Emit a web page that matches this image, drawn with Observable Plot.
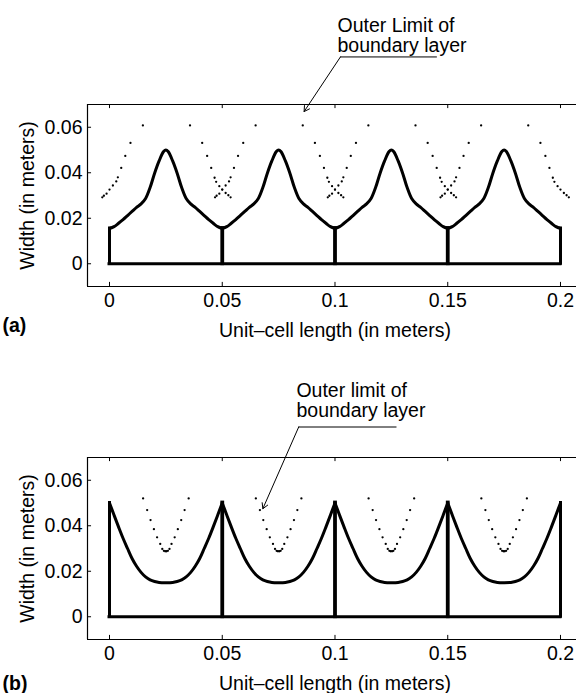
<!DOCTYPE html>
<html>
<head>
<meta charset="utf-8">
<script src="https://cdn.jsdelivr.net/npm/d3@7"></script>
<script src="https://cdn.jsdelivr.net/npm/@observablehq/plot@0.6"></script>
<style>
  html, body { margin: 0; padding: 0; background: #fff; overflow: hidden; }
  #chart svg { display: block; }
</style>
</head>
<body>
<div id="chart"></div>
<script>
// ---------- data ----------
const xTicks = [0, 0.05, 0.1, 0.15, 0.2];
const xTickLabels = ["0", "0.05", "0.1", "0.15", "0.2"];
const yTicks = [0, 0.02, 0.04, 0.06];
const yTickLabels = ["0", "0.02", "0.04", "0.06"];
const xLabel = "Unit\u2013cell length (in meters)";
const yLabel = "Width (in meters)";

// unit cells (left edges) and cell edges
const cellStarts = [0, 0.05, 0.1, 0.15];
const cellEdges = [0, 0.05, 0.1, 0.15, 0.2];

// (a) wall profile of one unit cell: offset within cell, width
const topCellX = [0, 0.002, 0.004, 0.006, 0.008, 0.010, 0.012, 0.014, 0.016, 0.018, 0.020, 0.022, 0.024, 0.025,
                  0.026, 0.028, 0.030, 0.032, 0.034, 0.036, 0.038, 0.040, 0.042, 0.044, 0.046, 0.048, 0.050];
const topCellW = [0.0155, 0.0163, 0.0178, 0.0194, 0.0212, 0.0230, 0.0248, 0.0263, 0.0287, 0.0335, 0.0398, 0.0452, 0.0493, 0.0500,
                  0.0493, 0.0452, 0.0398, 0.0335, 0.0287, 0.0263, 0.0248, 0.0230, 0.0212, 0.0194, 0.0178, 0.0163, 0.0155];

// (a) boundary-layer outer limit: rising branch (offset from a valley), falling branch
const riseValleys = [0, 0.05, 0.1, 0.15];
const riseOff = [-0.0032, -0.0025, -0.0013, 0.0000, 0.0015, 0.0030, 0.0037, 0.0052, 0.0070, 0.0093, 0.0148];
const riseW   = [0.0292, 0.0299, 0.0308, 0.0326, 0.0344, 0.0362, 0.0380, 0.0421, 0.0474, 0.0531, 0.0608];
const fallValleys = [0.05, 0.1, 0.15, 0.2];
const fallOff = [-0.0143, -0.0089, -0.0067, -0.0049, -0.0034, -0.0027, -0.0013, 0.0000, 0.0015, 0.0027, 0.0037];
const fallW   = [0.0608, 0.0531, 0.0474, 0.0421, 0.0378, 0.0360, 0.0341, 0.0326, 0.0311, 0.0301, 0.0292];

// (b) wall profile of one unit cell
const botCellX = [0, 0.002, 0.004, 0.006, 0.008, 0.010, 0.012, 0.014, 0.016, 0.018, 0.020, 0.022, 0.025,
                  0.028, 0.030, 0.032, 0.034, 0.036, 0.038, 0.040, 0.042, 0.044, 0.046, 0.048, 0.050];
const botCellW = [0.0500, 0.0447, 0.0395, 0.0345, 0.0300, 0.0256, 0.0222, 0.0195, 0.0175, 0.0162, 0.0155, 0.0151, 0.0150,
                  0.0151, 0.0155, 0.0162, 0.0175, 0.0195, 0.0222, 0.0256, 0.0300, 0.0345, 0.0395, 0.0447, 0.0500];

// (b) boundary-layer outer limit: V shape around each cell centre
const vCentres = [0.025, 0.075, 0.125, 0.175];
const vOff = [-0.0101, -0.0083, -0.0068, -0.0053, -0.0039, -0.0025, -0.0016, -0.0009, -0.0003,
               0.0003, 0.0009, 0.0016, 0.0025, 0.0039, 0.0053, 0.0068, 0.0083, 0.0101];
const vW   = [0.0520, 0.0469, 0.0425, 0.0385, 0.0349, 0.0320, 0.0298, 0.0290, 0.0288,
              0.0288, 0.0290, 0.0298, 0.0320, 0.0349, 0.0385, 0.0425, 0.0469, 0.0520];

// annotations (data units)
const annTop = {text: "Outer Limit of\nboundary layer", tx: 0.1011, ty: 0.0929,
                lineX: [0.145, 0.1024], lineY: [0.0909, 0.0909], tipX: 0.0863, tipY: 0.0669};
const annBot = {text: "Outer limit of\nboundary layer", tx: 0.0829, ty: 0.0876,
                lineX: [0.1271, 0.0839], lineY: [0.0834, 0.0834], tipX: 0.068, tipY: 0.0475};

// ---------- building ----------
const xDomain = [-0.00976, 0.2071];
const yDomain = [-0.01, 0.07];
const FONT = "'Liberation Sans', Arial, Helvetica, sans-serif";
const FS = 19.5;

function tile(starts, offs, ws) {
  const out = [];
  starts.forEach(s => offs.forEach((o, i) => out.push({cell: s, x: s + o, w: ws[i]})));
  return out;
}

function panel({height, marginTop, marginBottom, profile, edgeH, dots, ann, tag, tagDy}) {
  const tickLenX = 0.0018, tickLenY = 0.0018;
  return Plot.plot({
    width: 576,
    height,
    marginLeft: 87,
    marginRight: 0,
    marginTop,
    marginBottom,
    style: {fontFamily: FONT, fontSize: FS + "px", background: "#fff", color: "#000", overflow: "visible"},
    x: {domain: xDomain},
    y: {domain: yDomain},
    marks: [
      // frame (left, top, bottom)
      Plot.ruleY(yDomain, {stroke: "#000", strokeWidth: 1.2}),
      Plot.ruleX([xDomain[0]], {stroke: "#000", strokeWidth: 1.2}),
      // inward ticks
      Plot.ruleX(xTicks, {y1: yDomain[0], y2: yDomain[0] + tickLenY, stroke: "#000", strokeWidth: 1}),
      Plot.ruleX(xTicks, {y1: yDomain[1] - tickLenY, y2: yDomain[1], stroke: "#000", strokeWidth: 1}),
      Plot.ruleY(yTicks, {x1: xDomain[0], x2: xDomain[0] + tickLenX, stroke: "#000", strokeWidth: 1}),
      Plot.axisX(xTicks, {tickSize: 0, tickPadding: 7, label: null, fontSize: FS,
        tickFormat: d => xTickLabels[xTicks.indexOf(d)]}),
      Plot.axisY(yTicks, {tickSize: 0, tickPadding: 5, label: null, fontSize: FS,
        tickFormat: d => yTickLabels[yTicks.indexOf(d)]}),
      // wall
      Plot.ruleY([0], {x1: cellEdges[0], x2: cellEdges[cellEdges.length - 1], stroke: "#000", strokeWidth: 3, strokeLinecap: "square"}),
      Plot.ruleX(cellEdges, {y1: 0, y2: edgeH, stroke: "#000", strokeWidth: (d, i) => (i === 0 || i === cellEdges.length - 1) ? 3 : 3.8, strokeLinecap: "square"}),
      Plot.line(profile, {x: "x", y: "w", z: "cell", stroke: "#000", strokeWidth: 3, curve: "catmull-rom", strokeLinejoin: "round"}),
      // boundary layer outer limit
      Plot.dot(dots, {x: "x", y: "w", r: 1.15, fill: "#000", stroke: null}),
      // annotation
      Plot.line(ann.lineX.map((x, i) => ({x, y: ann.lineY[i]})), {x: "x", y: "y", stroke: "#000", strokeWidth: 1}),
      Plot.arrow([ann], {x1: d => d.lineX[1], y1: d => d.lineY[1], x2: "tipX", y2: "tipY",
        stroke: "#000", strokeWidth: 1, headLength: 9, bend: 0}),
      Plot.text([ann], {x: "tx", y: "ty", text: "text", textAnchor: "start", lineAnchor: "bottom",
        lineHeight: 1.04, fontSize: FS, fill: "#000"}),
      // axis labels
      Plot.text([xLabel], {x: () => 0.1, frameAnchor: "bottom", dy: 44, lineAnchor: "middle", fontSize: FS, fill: "#000"}),
      Plot.text([yLabel], {frameAnchor: "left", dx: -60, rotate: -90, lineAnchor: "middle", textAnchor: "middle", fontSize: FS, fill: "#000"}),
      Plot.text([tag], {frameAnchor: "bottom-left", dx: -85, dy: tagDy, textAnchor: "start", lineAnchor: "middle", fontWeight: "bold", fontSize: FS, fill: "#000"})
    ]
  });
}

const topDots = tile(riseValleys, riseOff, riseW).concat(tile(fallValleys, fallOff, fallW));
const botDots = tile(vCentres, vOff, vW);

const chart = document.getElementById("chart");
chart.append(panel({
  height: 345, marginTop: 104, marginBottom: 59,
  profile: tile(cellStarts, topCellX, topCellW), edgeH: topCellW[0],
  dots: topDots, ann: annTop, tag: "(a)", tagDy: 39
}));
chart.append(panel({
  height: 348, marginTop: 112, marginBottom: 54,
  profile: tile(cellStarts, botCellX, botCellW), edgeH: botCellW[0],
  dots: botDots, ann: annBot, tag: "(b)", tagDy: 44
}));
</script>
</body>
</html>
